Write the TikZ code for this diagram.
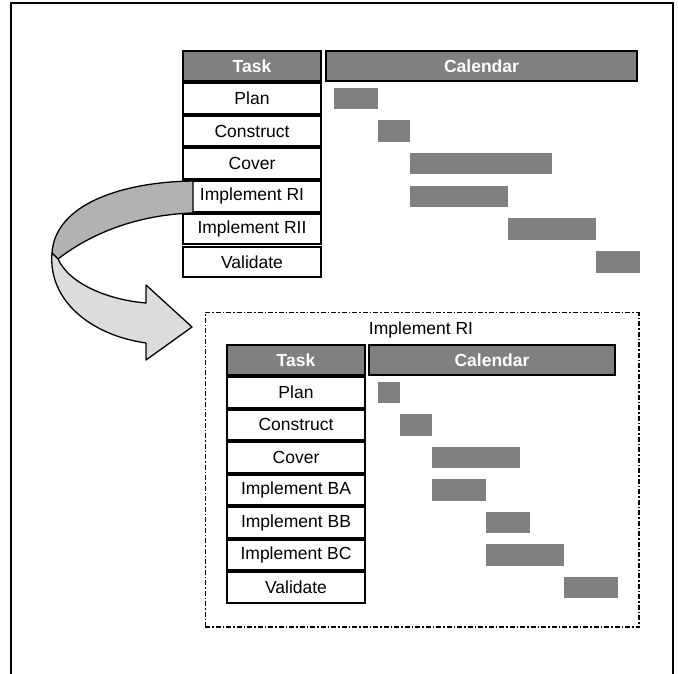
\documentclass[tikz,border=0pt]{standalone}
\usepackage{fontspec}
\setmainfont{Liberation Sans}
\usetikzlibrary{positioning}
\definecolor{bargray}{RGB}{128,128,128}
\definecolor{backgray}{RGB}{178,178,178}
\definecolor{frontgray}{RGB}{220,220,220}

\begin{document}
\begin{tikzpicture}[
  x=1pt,y=-1pt,
  font=\fontsize{17.5}{20}\selectfont,
  cell/.style={draw=black,line width=2pt,fill=white,inner sep=0pt,minimum height=30.6pt},
  head/.style={cell,fill=bargray,text=white,font=\fontsize{17.5}{20}\selectfont\bfseries},
  taskcol/.style={minimum width=138pt},
  bar/.style={fill=bargray},
  ribbon/.style={draw=black,line width=1.3pt,line join=round},
  boxline/.style={draw=black,line width=1pt,dash pattern=on 5pt off 2pt on 1.5pt off 2pt}
]
\useasboundingbox (0,0) rectangle (678,674);

% ---- outer frame, open at the bottom ----
\draw[line width=2pt] (11,674) -- (11,3) -- (672.5,3) -- (672.5,674);

% ---- top schedule ----
\node[head,taskcol] (tophead) at (252,66) {Task};
\node[head,minimum width=311pt] (topcal) at (481.5,66) {Calendar};
\foreach \name [count=\i] in {Plan,Construct,Cover,Implement RI,Implement RII,Validate}
  \node[cell,taskcol] (top\i) at (252,{82+32.7*(\i-0.5)}) {\name};
\foreach \i/\a/\b in {1/334/378,2/378/410,3/410/552,4/410/508,5/508/596,6/596/640}
  \fill[bar] (\a,{82+32.7*(\i-0.5)-10.7}) rectangle (\b,{82+32.7*(\i-0.5)+10.7});

% ---- twisted arrow: back side, then front side ----
\draw[ribbon,fill=backgray] (193,181) .. controls (120,182) and (55,205) .. (52,253)
  -- (58,259) .. controls (85,238) and (130,215) .. (193,213) -- cycle;
\draw[ribbon,fill=frontgray] (52,253) .. controls (48,300) and (90,335) .. (146,343)
  -- (146,360) -- (192,327) -- (146,285) -- (146,303)
  .. controls (110,300) and (70,285) .. (58,259) -- cycle;

% ---- zoomed schedule ----
\draw[boxline] (205,627) -- (205,312) -- (639,312);
\draw[boxline,line width=2pt] (205,627) -- (639,627) -- (639,312);
\node (subtitle) at (421,330) {Implement RI};
\node[head,taskcol] (subhead) at (296,360) {Task};
\node[head,minimum width=246pt] (subcal) at (492,360) {Calendar};
\foreach \name [count=\i] in {Plan,Construct,Cover,Implement BA,Implement BB,Implement BC,Validate}
  \node[cell,taskcol] (sub\i) at (296,{376+32.57*(\i-0.5)}) {\name};
\foreach \i/\a/\b in {1/378/400,2/400/432,3/432/520,4/432/486,5/486/530,6/486/564,7/564/618}
  \fill[bar] (\a,{376+32.57*(\i-0.5)-10.7}) rectangle (\b,{376+32.57*(\i-0.5)+10.7});

\end{tikzpicture}
\end{document}
